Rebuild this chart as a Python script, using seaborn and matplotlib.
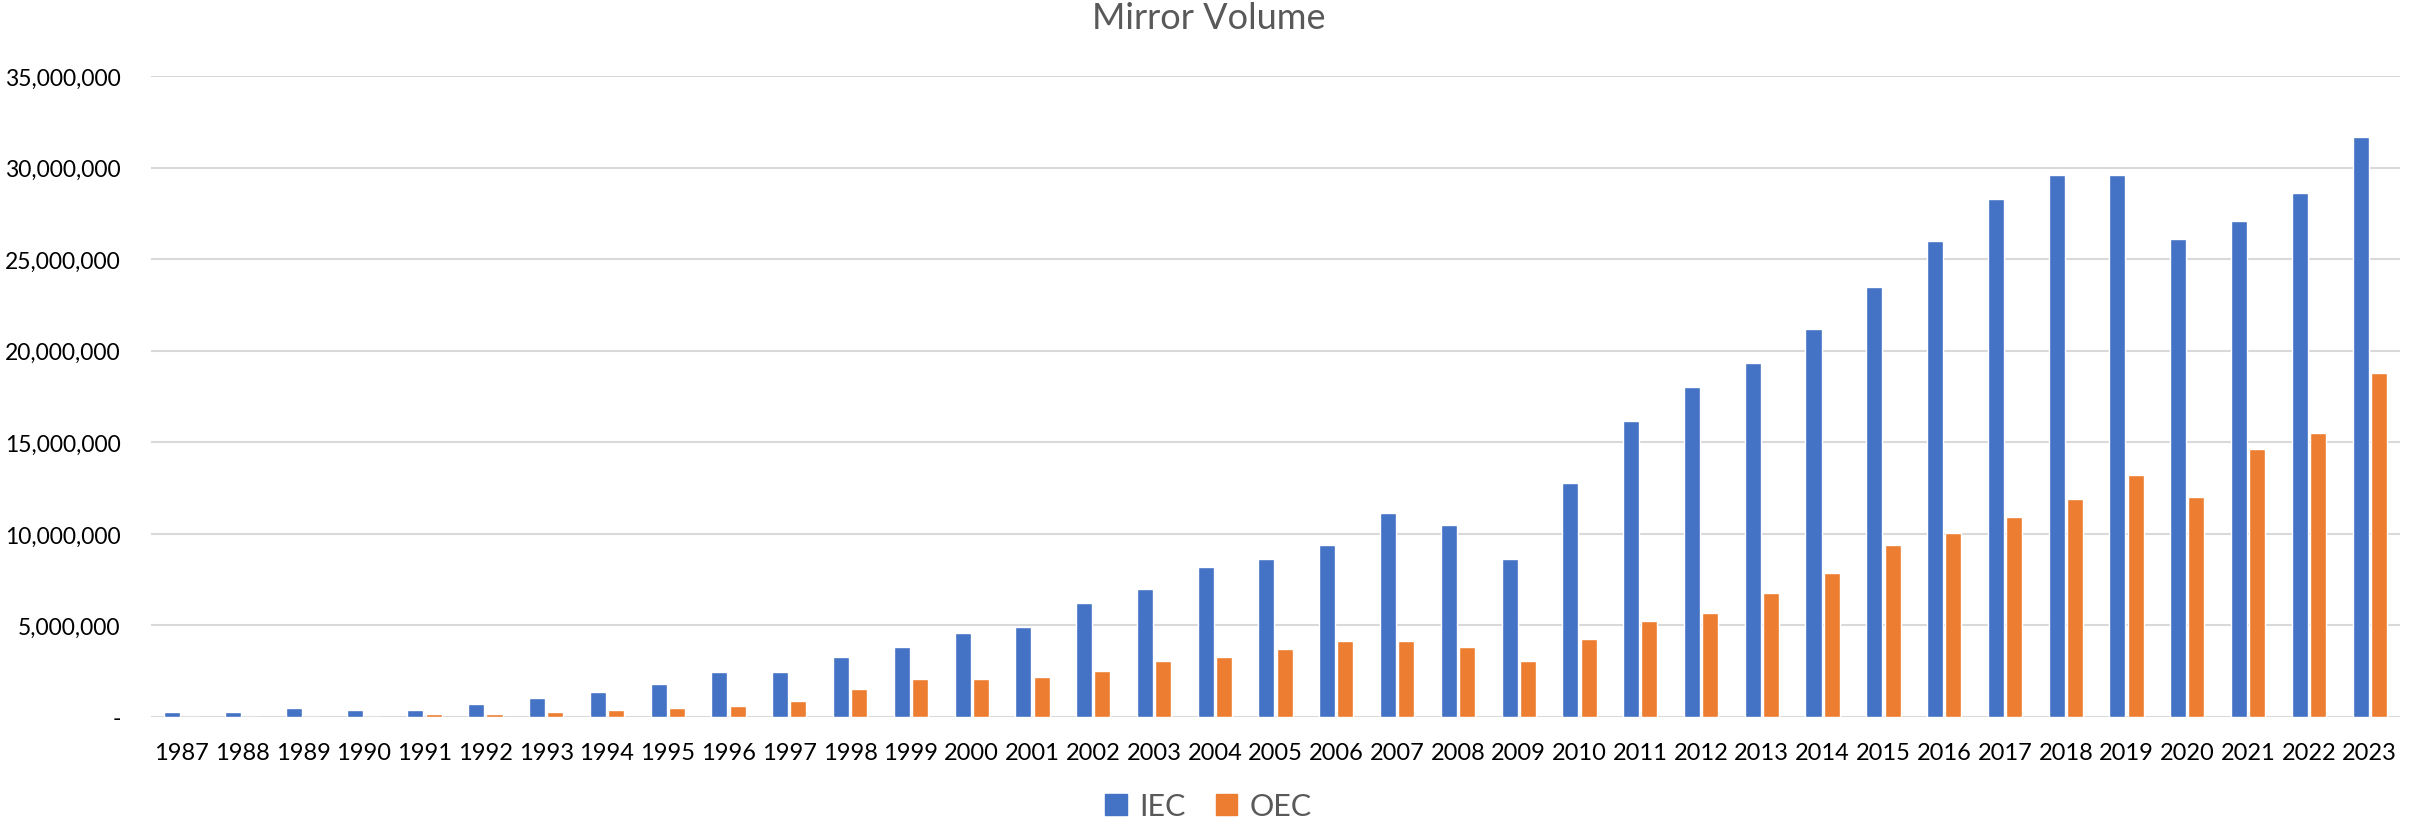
import seaborn as sns
import pandas as pd
import matplotlib.pyplot as plt
from matplotlib.ticker import FuncFormatter

years = list(range(1987, 2024))
iec = [0.25, 0.25, 0.47, 0.36, 0.36, 0.69, 1.01, 1.34, 1.78, 2.43, 2.43,
       3.27, 3.82, 4.58, 4.91, 6.22, 6.98, 8.18, 8.62, 9.38, 11.13, 10.47,
       8.62, 12.76, 16.17, 18.02, 19.32, 21.18, 23.48, 25.99, 28.27, 29.60,
       29.60, 26.09, 27.07, 28.60, 31.65]
oec = [0.0, 0.0, 0.0, 0.0, 0.15, 0.15, 0.25, 0.36, 0.47, 0.58, 0.90,
       1.53, 2.07, 2.07, 2.18, 2.51, 3.05, 3.27, 3.71, 4.15, 4.15, 3.82,
       3.05, 4.25, 5.24, 5.69, 6.77, 7.87, 9.40, 10.05, 10.93, 11.90,
       13.21, 12.00, 14.64, 15.51, 18.77]
series = ['IEC', 'OEC']
colors = ['#4472C4', '#ED7D31']

df = pd.DataFrame({
    'year': [str(y) for y in years] * 2,
    'volume': [v * 1e6 for v in iec] + [v * 1e6 for v in oec],
    'series': ['IEC'] * len(years) + ['OEC'] * len(years),
})

sns.set_style('white')
plt.rcParams['font.family'] = ['Lato', 'DejaVu Sans']

fig = plt.figure(figsize=(24.17, 8.2), dpi=100)
ax = fig.add_axes([0.0625, 0.1244, 0.9305, 0.7816])

sns.barplot(data=df, x='year', y='volume', hue='series', palette=colors,
            saturation=1, width=0.6, gap=0.12, ax=ax, legend=False)

ax.set_ylim(0, 35e6)
ax.set_yticks(range(0, 35000001, 5000000))
ax.yaxis.set_major_formatter(FuncFormatter(lambda v, p: '-' if v == 0 else f'{v:,.0f}'))
ax.grid(axis='y', color='#D9D9D9', linewidth=1.5)
ax.set_axisbelow(True)
for s in ax.spines.values():
    s.set_visible(False)
ax.tick_params(axis='y', length=0, pad=22, labelsize=16.5, labelcolor='#000000')
ax.tick_params(axis='x', length=0, pad=18, labelsize=17, labelcolor='#000000')
ax.set_xlabel('')
ax.set_ylabel('')

fig.suptitle('Mirror Volume', y=0.997, fontsize=26, color='#595959')

handles = [plt.Rectangle((0, 0), 1, 1, color=c) for c in colors]
fig.legend(handles, series, loc='lower center', bbox_to_anchor=(0.5, -0.035), ncol=2,
           frameon=False, fontsize=22, labelcolor='#595959',
           handlelength=0.7, handleheight=0.7, handletextpad=0.4, columnspacing=1.0)

fig.savefig('out.png', dpi=100)
plt.close()
